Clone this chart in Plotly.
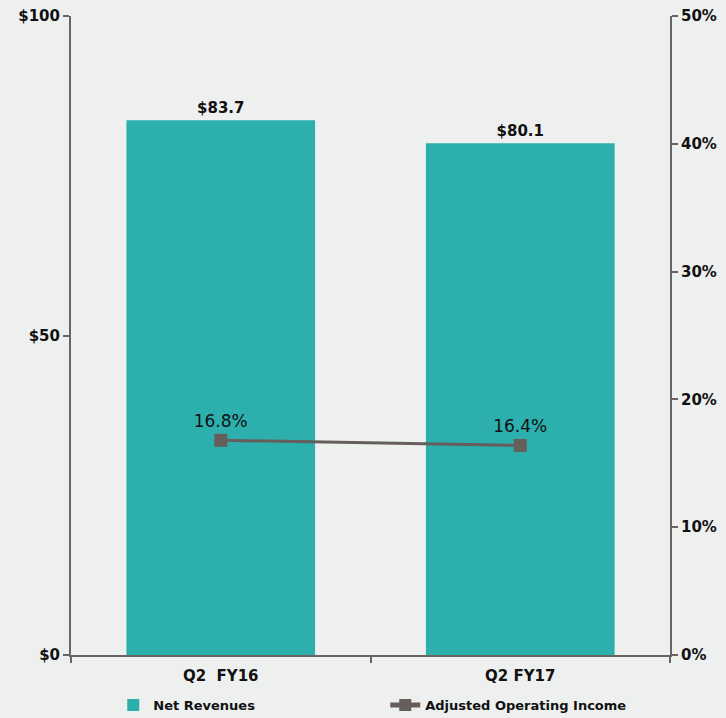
import plotly.graph_objects as go

# Quarterly results
periods = ["Q2  FY16", "Q2 FY17"]
net_revenues = [83.7, 80.1]            # $ millions
adj_operating_margin = [16.8, 16.4]    # percent

revenue_labels = ["$83.7", "$80.1"]
margin_labels = ["16.8%", "16.4%"]

left_ticks = [0, 50, 100]
left_tick_text = ["$0", "$50", "$100"]
right_ticks = [0, 10, 20, 30, 40, 50]
right_tick_text = ["0%", "10%", "20%", "30%", "40%", "50%"]

TEAL = "#2cafad"
GREY = "#655e5b"
AXIS = "#6b6461"
FONT = "DejaVu Sans"

fig = go.Figure()

fig.add_trace(go.Bar(
    x=periods, y=net_revenues, name="Net Revenues",
    marker=dict(color=TEAL, line=dict(width=0)),
    text=revenue_labels, textposition="outside", cliponaxis=False,
    textfont=dict(family=FONT, size=15, color="#111111", weight="bold"),
    yaxis="y",
))

fig.add_trace(go.Scatter(
    x=periods, y=adj_operating_margin, name="Adjusted Operating Income",
    mode="lines+markers+text",
    line=dict(color=GREY, width=3),
    marker=dict(symbol="square", size=13, color=GREY),
    text=margin_labels, textposition="top center",
    textfont=dict(family=FONT, size=17, color="#111111"),
    yaxis="y2",
))

tick_font = dict(family=FONT, size=15, color="#111111", weight="bold")

fig.update_layout(
    width=726, height=718,
    margin=dict(l=71, r=56, t=16, b=63),
    paper_bgcolor="#eef0f0", plot_bgcolor="rgba(0,0,0,0)",
    font=dict(family=FONT, size=14, color="#111111"),
    bargap=0.37,
    showlegend=True,
    legend=dict(
        orientation="h", xref="container", yref="container",
        x=0.156, xanchor="left", y=0.018, yanchor="middle",
        entrywidth=227, entrywidthmode="pixels",
        font=dict(family=FONT, size=13, color="#111111", weight="bold"),
        bgcolor="rgba(0,0,0,0)", traceorder="normal",
        itemsizing="constant",
    ),
    xaxis=dict(
        automargin=False,
        showgrid=False, showline=True, linecolor=AXIS, linewidth=2,
        ticks="outside", tickson="boundaries", ticklen=6, tickcolor=AXIS, tickwidth=2,
        ticklabelstandoff=6,
        tickfont=tick_font,
    ),
    yaxis=dict(
        automargin=False,
        range=[0, 100], tickvals=left_ticks, ticktext=left_tick_text,
        showgrid=False, zeroline=False, showline=True, linecolor=AXIS, linewidth=2,
        ticks="outside", ticklen=6, tickcolor=AXIS, tickwidth=2,
        tickfont=tick_font,
    ),
    yaxis2=dict(
        automargin=False,
        range=[0, 50], tickvals=right_ticks, ticktext=right_tick_text,
        overlaying="y", side="right",
        showgrid=False, zeroline=False, showline=True, linecolor=AXIS, linewidth=2,
        ticks="outside", ticklen=6, tickcolor=AXIS, tickwidth=2,
        tickfont=tick_font,
    ),
)

fig.write_html("out.html")
